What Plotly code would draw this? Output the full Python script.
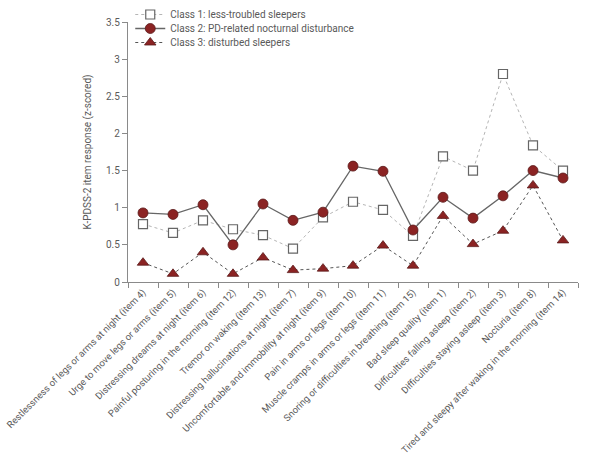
import plotly.graph_objects as go

items = [
    "Restlessness of legs or arms at night (item 4)",
    "Urge to move legs or arms (item 5)",
    "Distressing dreams at night (item 6)",
    "Painful posturing in the morning (item 12)",
    "Tremor on waking (item 13)",
    "Distressing hallucinations at night (item 7)",
    "Uncomfortable and immobility at night (item 9)",
    "Pain in arms or legs (item 10)",
    "Muscle cramps in arms or legs (item 11)",
    "Snoring or difficulties in breathing (item 15)",
    "Bad sleep quality (item 1)",
    "Difficulties falling asleep (item 2)",
    "Difficulties staying asleep (item 3)",
    "Nocturia (item 8)",
    "Tired and sleepy after waking in the morning (item 14)",
]
class1 = [0.78, 0.66, 0.83, 0.71, 0.63, 0.45, 0.87, 1.08, 0.97, 0.62, 1.69, 1.50, 2.80, 1.84, 1.50]
class2 = [0.93, 0.91, 1.04, 0.50, 1.05, 0.83, 0.94, 1.56, 1.49, 0.70, 1.14, 0.86, 1.16, 1.50, 1.40]
class3 = [0.26, 0.11, 0.40, 0.11, 0.33, 0.16, 0.18, 0.22, 0.49, 0.22, 0.89, 0.51, 0.69, 1.30, 0.56]
names = ["Class 1: less-troubled sleepers",
         "Class 2: PD-related nocturnal disturbance",
         "Class 3: disturbed sleepers"]
yticks = [0, 0.5, 1, 1.5, 2, 2.5, 3, 3.5]

RED = "#8b2323"
TXT = "#5a5a5a"
FONT = "Roboto"

fig = go.Figure()
fig.add_trace(go.Scatter(
    x=items, y=class1, name=names[0], mode="lines+markers", legend="legend",
    line=dict(color="#b5b5b5", width=1, dash="dot"),
    marker=dict(symbol="square", size=9, color="white", line=dict(color="#666666", width=1.2)),
))
fig.add_trace(go.Scatter(
    x=items, y=class2, name=names[1], mode="lines+markers", legend="legend2",
    line=dict(color="#666666", width=1.3),
    marker=dict(symbol="circle", size=10, color=RED, line=dict(color="#5a1a1a", width=0.8)),
))
fig.add_trace(go.Scatter(
    x=items, y=class3, name=names[2], mode="lines+markers", legend="legend3",
    line=dict(color="#555555", width=1, dash="dot"),
    marker=dict(symbol="triangle-up", size=10, color=RED, line=dict(color="#5a1a1a", width=0.8)),
))

leg_common = dict(x=0.005, xanchor="left", yanchor="top", bgcolor="rgba(0,0,0,0)",
                  font=dict(size=10, color=TXT), itemwidth=30)
fig.update_layout(
    width=590, height=459,
    margin=dict(l=128, r=12, t=22, b=177, autoexpand=False),
    paper_bgcolor="white", plot_bgcolor="white",
    font=dict(family=FONT, color=TXT, size=10),
    showlegend=True,
    legend=dict(y=1 + 22 / 260, **leg_common),
    legend2=dict(y=1 + 8 / 260, **leg_common),
    legend3=dict(y=1 - 6 / 260, **leg_common),
    xaxis=dict(
        type="category", range=[-0.5, 14.5],
        showline=True, linecolor="#8a8a8a", linewidth=1.2,
        ticks="outside", ticklen=5, tickcolor="#8a8a8a", tickson="boundaries",
        tickangle=-45, tickfont=dict(size=9.5, color=TXT),
        showgrid=False, automargin=False, zeroline=False,
    ),
    yaxis=dict(
        range=[0, 3.5], tickvals=yticks, ticktext=[f"{v:g}" for v in yticks],
        showline=True, linecolor="#8a8a8a", linewidth=1.2,
        ticks="outside", ticklen=5, tickcolor="#8a8a8a",
        showgrid=False, zeroline=False, automargin=False,
        tickfont=dict(size=10, color=TXT),
        title=dict(text="K-PDSS-2 item response (z-scored)", font=dict(size=10, color=TXT), standoff=12),
    ),
)

fig.write_html("out.html")
